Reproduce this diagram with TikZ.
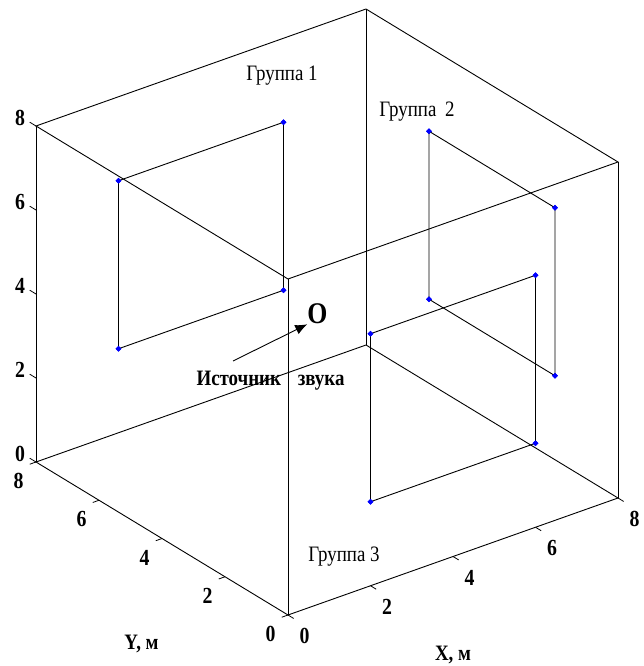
\documentclass[tikz,border=0pt]{standalone}
\usepackage{fontspec}
\setmainfont{Liberation Serif}[FakeStretch=0.86]
\usepackage{tikz}
\usetikzlibrary{positioning,arrows.meta,shapes.geometric}
\tikzset{
  edge/.style={draw=black,line width=0.9pt},
  rcv/.style={diamond,fill=blue,minimum size=6pt,inner sep=0pt},
  tk/.style={line width=0.8pt},
  num/.style={font=\fontsize{23}{25}\selectfont\bfseries,inner sep=0pt},
  grp/.style={font=\fontsize{22}{24}\selectfont,inner sep=0pt},
  ttl/.style={font=\fontsize{22}{24}\selectfont\bfseries,inner sep=0pt},
  src/.style={font=\fontsize{30}{32}\selectfont\bfseries,inner sep=0pt},
  arr/.style={-{Latex[length=12pt,width=10pt]},line width=0.9pt}
}

\begin{document}
\begin{tikzpicture}[x=1pt,y=-1pt]
\useasboundingbox (0,0) rectangle (644,666);
\begin{scope}[shift={(288,615)},x={(41.25pt,14.625pt)},y={(-31.5pt,19.125pt)},z={(0pt,42pt)}]
\coordinate (o) at (0,0,0);
\coordinate (xe) at (8,0,0);
\coordinate (ye) at (0,8,0);
\coordinate (xy) at (8,8,0);
\coordinate (oz) at (0,0,8);
\coordinate (xz) at (8,0,8);
\coordinate (yz) at (0,8,8);
\coordinate (xyz) at (8,8,8);
\draw[edge] (o)--(xe)--(xy)--(ye)--cycle;
\draw[edge] (oz)--(xz)--(xyz)--(yz)--cycle;
\draw[edge] (o)--(oz) (xe)--(xz) (ye)--(yz) (xy)--(xyz);
\foreach \t in {0,2,...,8}{
  \draw[tk] (0,8,\t)--(0,8.2,\t);
  \draw[tk] (0,\t,0)--(-0.15,\t,0);
  \draw[tk] (\t,0,0)--(\t,-0.18,0);
  \node[num,xshift=-16pt,yshift=8pt] (zl\t) at (0,8,\t) {\t};
  \node[num,xshift=-17.5pt,yshift=-19pt] (yl\t) at (0,\t,0) {\t};
  \node[num,xshift=16.5pt,yshift=-21pt] (xl\t) at (\t,0,0) {\t};
}
\node[rcv] (g1a) at (2,8,2) {};
\node[rcv] (g1b) at (6,8,2) {};
\node[rcv] (g1c) at (6,8,6) {};
\node[rcv] (g1d) at (2,8,6) {};
\node[rcv] (g2a) at (8,2,2) {};
\node[rcv] (g2b) at (8,6,2) {};
\node[rcv] (g2c) at (8,6,6) {};
\node[rcv] (g2d) at (8,2,6) {};
\node[rcv] (g3a) at (2,0,2) {};
\node[rcv] (g3b) at (6,0,2) {};
\node[rcv] (g3c) at (6,0,6) {};
\node[rcv] (g3d) at (2,0,6) {};
\draw[edge] (g1a.center)--(g1b.center)--(g1c.center)--(g1d.center)--cycle;
\draw[edge] (g2a.center)--(g2b.center)--(g2c.center)--(g2d.center)--cycle;
\draw[edge] (g3a.center)--(g3b.center)--(g3c.center)--(g3d.center)--cycle;
\foreach \g in {g1a,g1b,g1c,g1d,g2a,g2b,g2c,g2d,g3a,g3b,g3c,g3d}
  \node[rcv] at (\g) {};
\end{scope}
\node[grp] (lg1) at (282,76) {Группа 1};
\node[grp] (lg2) at (417,112) {Группа\hspace{4pt} 2};
\node[grp] (lg3) at (344,557) {Группа 3};
\node[ttl] (ly) at (141.5,644) {Y, м};
\node[ttl] (lx) at (453,655) {X, м};
\node[src] (src) at (317.5,314) {O};
\coordinate (tail) at (233,361);
\draw[arr] (tail) -- (src.south west);
\node[ttl] (lsrc) at (270.5,381) {Источник\hspace{12pt} звука};
\end{tikzpicture}
\end{document}
